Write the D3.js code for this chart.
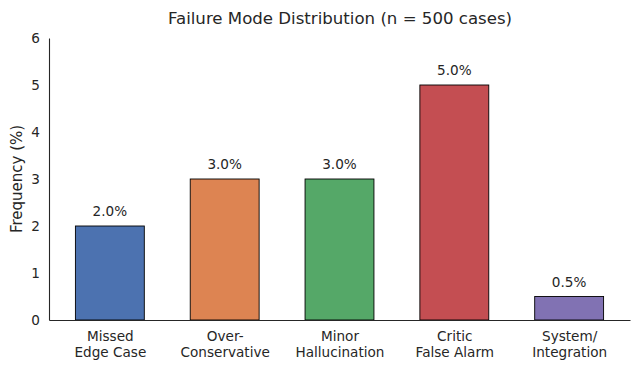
<!DOCTYPE html>
<html>
<head>
<meta charset="utf-8">
<script src="https://cdn.jsdelivr.net/npm/d3@7"></script>
<style>
  body { margin: 0; background: #fff; }
  text { font-family: "DejaVu Sans", sans-serif; fill: #262626; }
</style>
</head>
<body>
<svg id="canvas" width="640" height="370"></svg>
<script>
// data
var categories = [["Missed", "Edge Case"], ["Over-", "Conservative"], ["Minor", "Hallucination"], ["Critic", "False Alarm"], ["System/", "Integration"]];
var values = [2.0, 3.0, 3.0, 5.0, 0.5];
var colors = ["#4C72B0", "#DD8452", "#55A868", "#C44E52", "#8172B3"];
var yTicks = [0, 1, 2, 3, 4, 5, 6];

var svg = d3.select('#canvas');
var plotL = 49, plotR = 630, plotT = 38, plotB = 320;

var x = d3.scaleLinear().domain([-0.53, 4.53]).range([plotL, plotR]);
var y = d3.scaleLinear().domain([0, 6]).range([plotB, plotT]);
var barW = x(0.3) - x(-0.3);

// title
svg.append('text').attr('x', 340).attr('y', 24).attr('text-anchor', 'middle')
  .style('font-size', '16.6px').text('Failure Mode Distribution (n = 500 cases)');

// y label
svg.append('text').attr('transform', 'translate(22,' + ((plotT + plotB) / 2) + ') rotate(-90)')
  .attr('text-anchor', 'middle').style('font-size', '15px').text('Frequency (%)');

// y axis
var yAxis = svg.append('g').attr('transform', 'translate(' + plotL + ',0)')
  .call(d3.axisLeft(y).tickValues(yTicks).tickSize(0).tickPadding(9).tickFormat(d3.format('d')));
yAxis.select('.domain').attr('stroke', '#262626').attr('stroke-width', 1.1);
yAxis.selectAll('text').style('font-size', '13.6px').style('font-family', '"DejaVu Sans", sans-serif').attr('fill', '#262626');

// bars
svg.selectAll('rect.bar').data(values).enter().append('rect')
  .attr('class', 'bar')
  .attr('x', (d, i) => x(i) - barW / 2)
  .attr('y', d => y(d))
  .attr('width', barW)
  .attr('height', d => y(0) - y(d))
  .attr('fill', (d, i) => colors[i])
  .attr('stroke', '#000').attr('stroke-width', 0.9);

// value labels
svg.selectAll('text.val').data(values).enter().append('text')
  .attr('class', 'val')
  .attr('x', (d, i) => x(i))
  .attr('y', d => y(d) - 10)
  .attr('text-anchor', 'middle').style('font-size', '13.6px')
  .text(d => d.toFixed(1) + '%');

// x axis
var xAxis = svg.append('g').attr('transform', 'translate(0,' + plotB + ')')
  .call(d3.axisBottom(x).tickValues(d3.range(categories.length)).tickSize(0).tickFormat(''));
xAxis.select('.domain').attr('stroke', '#262626').attr('stroke-width', 1.1);
xAxis.selectAll('.tick').each(function(d) {
  var t = d3.select(this).append('text').attr('text-anchor', 'middle').style('font-size', '13.6px').attr('fill', '#262626');
  categories[d].forEach(function(line, j) {
    t.append('tspan').attr('x', 0).attr('y', 21 + j * 16).text(line);
  });
});
</script>
</body>
</html>
